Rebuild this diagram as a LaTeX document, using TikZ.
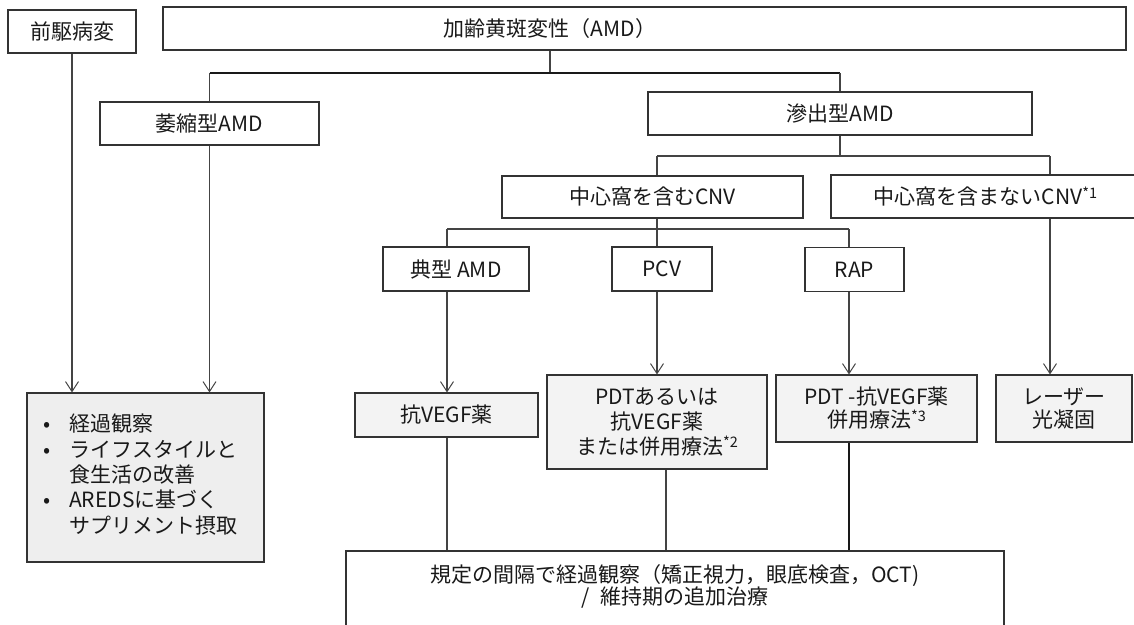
\documentclass[tikz,border=0pt]{standalone}
\usepackage{fontspec}
\setmainfont{Noto Sans CJK JP}
\usetikzlibrary{arrows.meta}
\definecolor{linec}{HTML}{444444}
\definecolor{boxc}{HTML}{333333}
\definecolor{fillc}{HTML}{F3F3F3}
\definecolor{fillb}{HTML}{EEEEEE}
\newcommand{\noteup}[1]{\raisebox{6.5pt}{\fontsize{14.5}{14.5}\selectfont #1}}
\begin{document}
\begin{tikzpicture}[x=1pt,y=-1pt,
  box/.style={draw=boxc, line width=1.1pt, inner sep=0pt, align=center,
    font=\fontsize{21}{24}\selectfont, text=black!90},
  gbox/.style={box, fill=fillc},
  txt/.style={inner sep=0pt, align=center, font=\fontsize{21}{24}\selectfont, text=black!90},
  ln/.style={draw=linec, line width=1.1pt},
  lnb/.style={draw=black!90, line width=2.2pt},
  arr/.style={ln, -{Straight Barb[length=10pt,width=13pt,line width=1pt]}}]
\useasboundingbox (0,0) rectangle (1134,624);
% top row
\node[box, minimum width=128pt, minimum height=43pt] (pre) at (72,31.5) {前駆病変};
\node[box, minimum width=963pt, minimum height=43pt] (amd) at (644.5,28.5) {};
\node[txt] (amdt) at (550,29) {加齢黄斑変性（AMD）};
% second row
\node[box, minimum width=219pt, minimum height=43pt] (atro) at (209.5,123.5) {萎縮型AMD};
\node[box, minimum width=384pt, minimum height=43pt] (exu) at (840,113.5) {滲出型AMD};
% third row
\node[box, minimum width=301pt, minimum height=42pt] (cnv) at (652.5,197) {中心窩を含むCNV};
\node[box, minimum width=309pt, minimum height=43pt] (ncnv) at (985.5,196.5) {中心窩を含まないCNV\noteup{*1}};
% fourth row
\node[box, minimum width=146pt, minimum height=44pt] (typ) at (456,269) {典型 AMD};
\node[box, minimum width=100pt, minimum height=44pt] (pcv) at (662,269) {PCV};
\node[box, minimum width=99pt, minimum height=44pt] (rap) at (854.5,269.5) {RAP};
% treatments
\node[gbox, minimum width=183pt, minimum height=44pt] (vegf) at (446.5,415) {抗VEGF薬};
\node[gbox, minimum width=220pt, minimum height=94pt, font=\fontsize{21}{25}\selectfont] (pdt) at (657,422) {PDTあるいは\\抗VEGF薬\\または併用療法\noteup{*2}};
\node[gbox, minimum width=201pt, minimum height=67pt, font=\fontsize{21}{23}\selectfont] (pdtc) at (876.5,408.5) {PDT -抗VEGF薬\\併用療法\noteup{*3}};
\node[gbox, minimum width=136pt, minimum height=67pt, font=\fontsize{21}{23}\selectfont] (laser) at (1064,408.5) {レーザー\\光凝固};
\node[box, fill=fillb, minimum width=237pt, minimum height=169pt] (obs) at (145.5,477.5) {};
\node[txt, anchor=west, font=\fontsize{21}{25.3}\selectfont] (obst) at (43,477.5)
  {\begin{tabular}{@{}l@{}l@{}}
   \makebox[26pt][l]{•} & 経過観察\\
   \makebox[26pt][l]{•} & ライフスタイルと\\
     & 食生活の改善\\
   \makebox[26pt][l]{•} & AREDSに基づく\\
     & サプリメント摂取
   \end{tabular}};
% follow-up
\node[box, minimum width=658pt, minimum height=89pt] (fu) at (675,595.5) {};
\node[txt, font=\fontsize{21}{22}\selectfont] (fut) at (675,586) {規定の間隔で経過観察（矯正視力，眼底検査，OCT)\\/\hspace{10pt}維持期の追加治療};
% junctions
\coordinate (b1) at (0,73);
\coordinate (j2a) at (657,156);
\coordinate (j2b) at (1050,156);
\coordinate (j3a) at (447,229);
\coordinate (j3b) at (657,229);
\coordinate (j3c) at (849,229);
\coordinate (j4) at (666,0);
% level 1
\draw[ln] (amd.south -| amdt) -- (b1 -| amdt);
\draw[lnb, line width=2pt] (b1 -| atro) -- (b1 -| exu);
\draw[ln] (b1 -| atro) -- (atro.north);
\draw[ln] (b1 -| exu) -- (exu.north);
% level 2
\draw[ln] (exu.south) -- (exu.south |- j2a);
\draw[ln] (j2a) -- (j2b);
\draw[ln] (j2a) -- (j2a |- cnv.north);
\draw[ln] (j2b) -- (j2b |- ncnv.north);
% level 3
\draw[ln] (j3b |- cnv.south) -- (j3b);
\draw[ln] (j3a) -- (j3c);
\draw[ln] (j3a) -- (j3a |- typ.north);
\draw[ln] (j3b) -- (j3b |- pcv.north);
\draw[ln] (j3c) -- (j3c |- rap.north);
% arrows
\draw[arr] (j3a |- typ.south) -- (j3a |- vegf.north);
\draw[arr] (j3b |- pcv.south) -- (j3b |- pdt.north);
\draw[arr] (j3c |- rap.south) -- (j3c |- pdtc.north);
\draw[arr] (j2b |- ncnv.south) -- (j2b |- laser.north);
\draw[arr] (pre.south) -- (pre.south |- obs.north);
\draw[arr] (atro.south) -- (atro.south |- obs.north);
% to follow-up
\draw[ln] (j3a |- vegf.south) -- (j3a |- fu.north);
\draw[ln] (j4 |- pdt.south) -- (j4 |- fu.north);
\draw[lnb] (j3c |- pdtc.south) -- (j3c |- fu.north);
\end{tikzpicture}
\end{document}
